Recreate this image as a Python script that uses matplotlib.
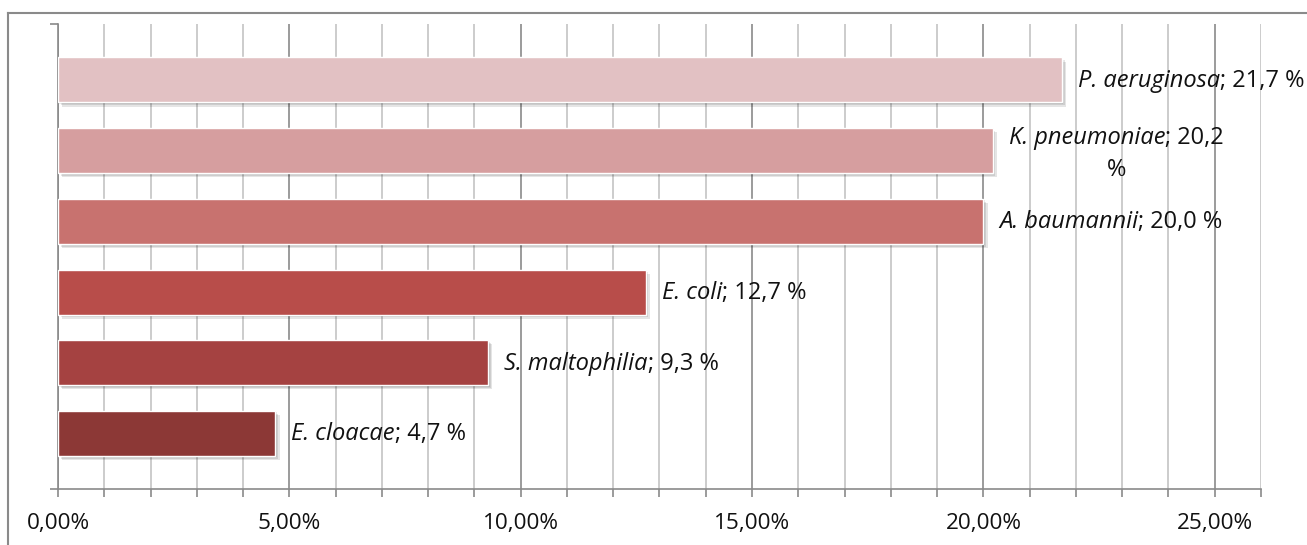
import numpy as np
import matplotlib
import matplotlib.pyplot as plt
import matplotlib.patheffects as pe
from matplotlib.lines import Line2D
from matplotlib.ticker import MultipleLocator, FuncFormatter

plt.rcParams["font.family"] = ["Open Sans", "DejaVu Sans"]

# species from bottom to top
species = ["E. cloacae", "S. maltophilia", "E. coli", "A. baumannii",
           "K. pneumoniae", "P. aeruginosa"]
values = [4.7, 9.3, 12.7, 20.0, 20.2, 21.7]
colors = ["#8C3836", "#A54241", "#B84D4A", "#C8726F", "#D69E9F", "#E2C1C3"]
wrapped = ["K. pneumoniae"]

W, H, DPI = 1307, 545, 100
FS_LABEL = 17
FS_TICK = 16.2

fig = plt.figure(figsize=(W / DPI, H / DPI), dpi=DPI)
ax = fig.add_axes([58 / W, 1 - 489 / H, (1261 - 58) / W, (489 - 24) / H])

y = np.arange(len(species))
shadow = [pe.SimplePatchShadow(offset=(k, -k), shadow_rgbFace="k", alpha=0.10)
          for k in (1, 2, 3)] + [pe.Normal()]
bars = ax.barh(y, np.array(values) / 100, height=0.636, color=colors,
               edgecolor="white", linewidth=1, zorder=3)
for b in bars:
    b.set_path_effects(shadow)

ax.set_xlim(0, 0.26)
ax.set_ylim(-0.785, 5.79)

ax.xaxis.set_major_locator(MultipleLocator(0.05))
ax.xaxis.set_minor_locator(MultipleLocator(0.01))
ax.xaxis.set_major_formatter(FuncFormatter(lambda v, p: f"{v * 100:.2f}%".replace(".", ",")))
ax.grid(which="major", axis="x", color="#8A8A8A", lw=1.2, zorder=0)
ax.grid(which="minor", axis="x", color="#C4C4C4", lw=1.2, zorder=0)
ax.tick_params(axis="x", which="both", length=6, width=1.2, color="#8A8A8A",
               labelsize=FS_TICK, labelcolor="#111111", pad=11.5)
ax.set_yticks([-0.785, 5.79])
ax.set_yticklabels([])
ax.tick_params(axis="y", length=6, width=1.2, color="#8A8A8A")
for s in ("top", "right"):
    ax.spines[s].set_visible(False)
for s in ("left", "bottom"):
    ax.spines[s].set_color("#8A8A8A")
    ax.spines[s].set_linewidth(1.2)

fig.canvas.draw()
renderer = fig.canvas.get_renderer()


def put(x, yy, text, dx, dy, style, ha="left"):
    t = ax.annotate(text, (x, yy), xytext=(dx, dy), textcoords="offset points",
                    fontsize=FS_LABEL, style=style, va="baseline", ha=ha,
                    color="#111111", zorder=5, annotation_clip=False)
    return t.get_window_extent(renderer).width * 72 / DPI


for i, (name, v) in enumerate(zip(species, values)):
    x = v / 100
    rest = "; " + f"{v:.1f}".replace(".", ",")
    dx = 11.5
    if name in wrapped:
        w1 = put(x, i, name, dx, 4.8, "italic")
        w2 = put(x, i, rest, dx + w1, 4.8, "normal")
        put(x, i, "%", dx + (w1 + w2) / 2, -18.2, "normal", ha="center")
    else:
        w1 = put(x, i, name, dx, -4.9, "italic")
        put(x, i, rest + " %", dx + w1, -4.9, "normal")

# outer chart frame
fx, fy = 8 / W, 1 - 13 / H
fig.add_artist(Line2D([fx, 1.0], [fy, fy], transform=fig.transFigure,
                      color="#8A8A8A", lw=1.5))
fig.add_artist(Line2D([fx, fx], [0, fy], transform=fig.transFigure,
                      color="#8A8A8A", lw=1.5))

fig.savefig("out.png", dpi=DPI)
